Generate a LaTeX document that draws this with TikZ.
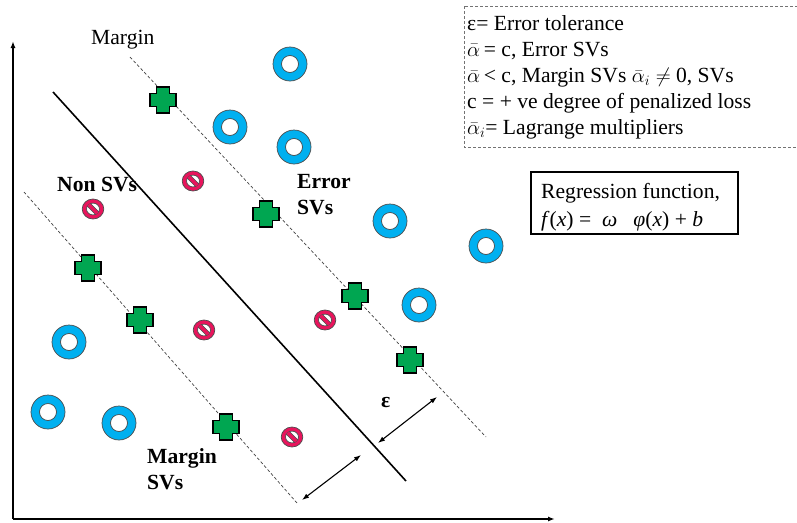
\documentclass[tikz,border=0pt]{standalone}
\usepackage{fontspec}
\setmainfont{Liberation Serif}
\usetikzlibrary{arrows.meta}
\definecolor{ringc}{RGB}{0,176,240}
\definecolor{crossc}{RGB}{0,166,81}
\definecolor{noc}{RGB}{232,20,92}
\tikzset{
  txt/.style={font=\fontsize{21.6}{26}\selectfont, inner sep=0pt, anchor=base west},
  bold/.style={txt, font=\fontsize{21.6}{26}\selectfont\bfseries},
  margline/.style={draw=black!75, line width=0.7pt, dash pattern=on 3pt off 2.2pt},
  axis/.style={line width=1.5pt, -{Latex[length=7pt,width=5pt]}},
  dimarrow/.style={line width=1.1pt, {Latex[length=7pt,width=5pt]}-{Latex[length=7pt,width=5pt]}},
  ring/.pic={
    \path[fill=ringc, draw=black!70, line width=0.7pt, even odd rule] (0,0) circle (17) (0,0) circle (8.5);
  },
  plusmark/.pic={
    \path[fill=crossc, draw=black, line width=1.4pt]
      (-6.5,-13) -- (6.5,-13) -- (6.5,-6.5) -- (13,-6.5) -- (13,6.5) -- (6.5,6.5)
      -- (6.5,13) -- (-6.5,13) -- (-6.5,6.5) -- (-13,6.5) -- (-13,-6.5) -- (-6.5,-6.5) -- cycle;
  },
  nosym/.pic={
    \path[fill=noc, draw=black!70, line width=0.7pt] (0,0) ellipse (10.8 and 10);
    \path[fill=white, draw=black!70, line width=0.7pt] (0,0) ellipse (6.5 and 5.9);
    \begin{scope}
      \clip (0,0) ellipse (6.5 and 5.9);
      \draw[black!70, line width=4.6pt] (-8,-8) -- (8,8);
      \draw[noc, line width=3.2pt] (-8,-8) -- (8,8);
    \end{scope}
  }
}
\begin{document}
\begin{tikzpicture}[x=1pt,y=-1pt]
\useasboundingbox (0,0) rectangle (797,522);

% axes
\coordinate (O) at (13,519);
\coordinate (ytip) at (13,41);
\coordinate (xtip) at (555,519);
\draw[axis] (O) -- (ytip);
\draw[axis] (O) -- (xtip);

% regression line and margins
\coordinate (s1) at (53,92);
\coordinate (s2) at (406,481);
\draw[line width=1.6pt] (s1) -- (s2);
\coordinate (u1) at (130,57);
\coordinate (u2) at (486,437);
\draw[margline] (u1) -- (u2);
\coordinate (l1) at (24,192);
\coordinate (l2) at (297,503);
\draw[margline] (l1) -- (l2);

% epsilon arrows
\coordinate (a1) at (302,500);
\coordinate (a2) at (361,455);
\draw[dimarrow] (a1) -- (a2);
\coordinate (b1) at (378,443);
\coordinate (b2) at (437,397);
\draw[dimarrow] (b1) -- (b2);

% rings
\foreach \p in {(290,64),(230,127),(294,147),(390,221),(486,246),(419,305),(69,342),(48,412),(119,423)}
  \pic at \p {ring};
% crosses
\foreach \p in {(163,100),(266,214),(355,296),(410,360),(88,268),(140,320),(226,427)}
  \pic at \p {plusmark};
% non SV symbols
\foreach \p in {(193,181),(93,209),(204,330),(325,320),(292,437)}
  \pic at \p {nosym};

% labels
\node[txt] (margin) at (91,44) {Margin};
\node[bold] (nonsv) at (57,191) {Non SVs};
\node[bold] (err1) at (297,188) {Error};
\node[bold] (err2) at (297,214) {SVs};
\node[bold] (msv1) at (147,463) {Margin};
\node[bold] (msv2) at (147,489) {SVs};
\node[bold] (eps) at (381,407) {ε};

% legend
\draw[black!55, line width=0.7pt, dash pattern=on 3pt off 2pt] (464,6) rectangle (800,147);
\node[txt] (lg1) at (467,30) {ε= Error tolerance};
\node[txt] (lg2) at (467,56) {$\bar{\alpha}$\,= c, Error SVs};
\node[txt] (lg3) at (467,82) {$\bar{\alpha}$\,< c, Margin SVs $\bar{\alpha}_i\neq$ 0, SVs};
\node[txt] (lg4) at (467,108) {c = + ve degree of penalized loss};
\node[txt] (lg5) at (467,134) {$\bar{\alpha}_i$= Lagrange multipliers};

% regression function box
\node[draw, line width=1.5pt, minimum width=207pt, minimum height=62pt, inner sep=0pt] (regbox) at (634.5,203) {};
\node[txt] (reg1) at (541,198) {Regression function,};
\node[txt] (reg2) at (541,226) {\textit{f}(\textit{x}) =\ \ \textit{ω}\ \ \ \textit{φ}(\textit{x}) + \textit{b}};
\end{tikzpicture}
\end{document}
